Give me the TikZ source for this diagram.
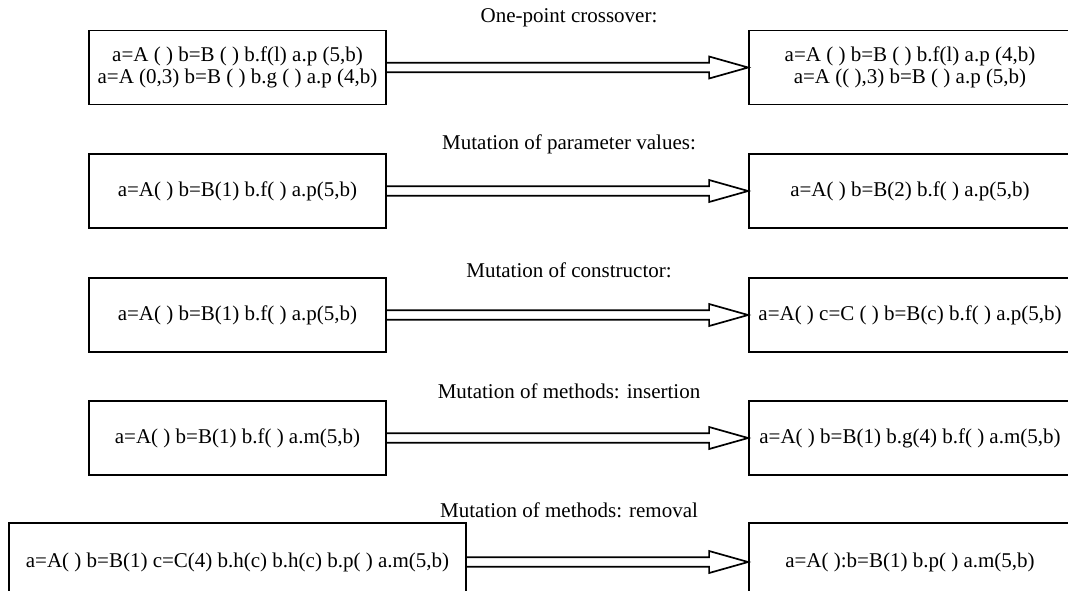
\documentclass[tikz,border=0pt]{standalone}
\usepackage{fontspec}
\setmainfont{Liberation Serif}
\usetikzlibrary{calc}
% hollow double-line arrow from the east side of #1 to the west side of #2
\newcommand\hollowarrow[2]{%
  \draw[hollow] ($(#1.east)+(0,-4.8)$) -- ($(#2.west)+(-39,-4.8)$)
    -- ($(#2.west)+(-39,-11)$) -- (#2.west) -- ($(#2.west)+(-39,11)$)
    -- ($(#2.west)+(-39,4.8)$) -- ($(#1.east)+(0,4.8)$);}
\begin{document}
\begin{tikzpicture}[x=1pt,y=-1pt,
  codebox/.style={draw, line width=1.8pt, align=center,
    font=\fontsize{21}{21.5}\selectfont, inner sep=0pt, minimum height=74pt},
  leftbox/.style={codebox, minimum width=297pt},
  rightbox/.style={codebox, minimum width=322pt},
  caption/.style={font=\fontsize{21}{21.5}\selectfont, inner sep=0pt},
  hollow/.style={line width=1.7pt, line join=miter}]
\useasboundingbox (0,0) rectangle (1068,590);
\clip (0,0) rectangle (1068,590);

% one-point crossover
\node[caption] (t1) at (569,18) {One-point crossover:};
\node[leftbox] (l1) at (237.5,67.5) {a=A ( ) b=B ( ) b.f(l) a.p (5,b)\\a=A (0,3) b=B ( ) b.g ( ) a.p (4,b)};
\node[rightbox] (r1) at (910,67.5) {a=A ( ) b=B ( ) b.f(l) a.p (4,b)\\a=A (( ),3) b=B ( ) a.p (5,b)};
\hollowarrow{l1}{r1}

% parameter values
\node[caption] (t2) at (569,144) {Mutation of parameter values:};
\node[leftbox] (l2) at (237.5,191) {a=A( ) b=B(1) b.f( ) a.p(5,b)};
\node[rightbox] (r2) at (910,191) {a=A( ) b=B(2) b.f( ) a.p(5,b)};
\hollowarrow{l2}{r2}

% constructor
\node[caption] (t3) at (569,270) {Mutation of constructor:};
\node[leftbox] (l3) at (237.5,315) {a=A( ) b=B(1) b.f( ) a.p(5,b)};
\node[rightbox] (r3) at (910,315) {a=A( ) c=C ( ) b=B(c) b.f( ) a.p(5,b)};
\hollowarrow{l3}{r3}

% method insertion
\node[caption] (t4) at (569,391) {Mutation of methods: insertion};
\node[leftbox] (l4) at (237.5,438) {a=A( ) b=B(1) b.f( ) a.m(5,b)};
\node[rightbox] (r4) at (910,438) {a=A( ) b=B(1) b.g(4) b.f( ) a.m(5,b)};
\hollowarrow{l4}{r4}

% method removal
\node[caption] (t5) at (569,510) {Mutation of methods: removal};
\node[codebox, minimum width=457pt, minimum height=78pt] (l5) at (237.5,562) {a=A( ) b=B(1) c=C(4) b.h(c) b.h(c) b.p( ) a.m(5,b)};
\node[rightbox, minimum height=78pt] (r5) at (910,562) {a=A( ):b=B(1) b.p( ) a.m(5,b)};
\hollowarrow{l5}{r5}
\end{tikzpicture}
\end{document}
